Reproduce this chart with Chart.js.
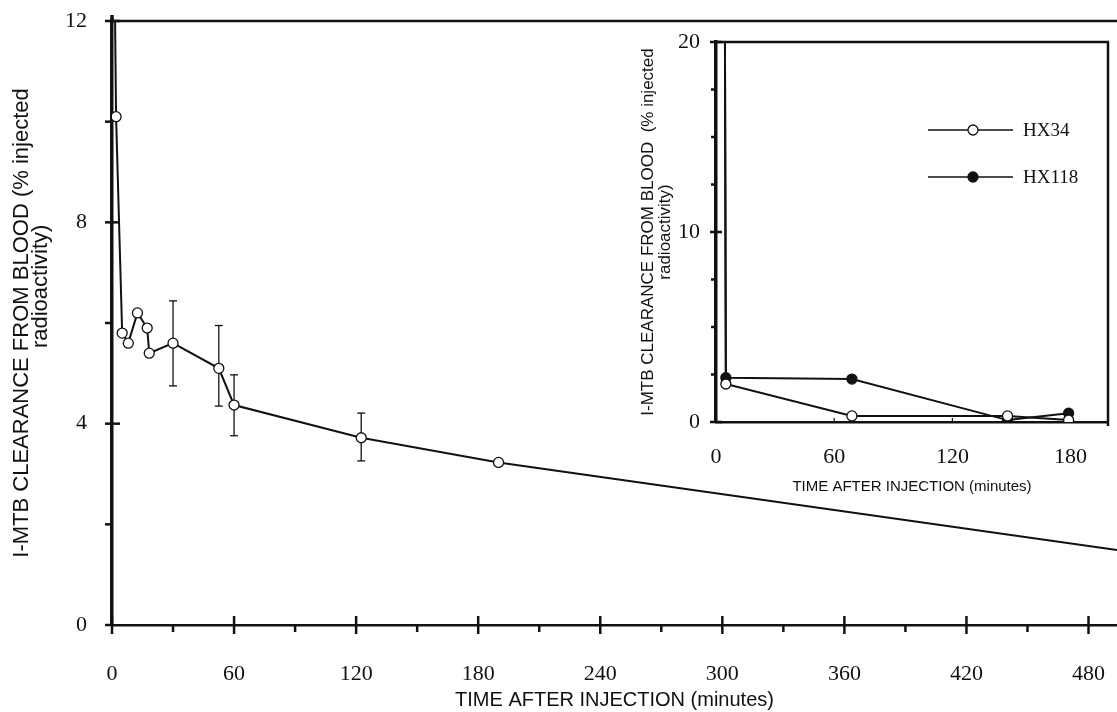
<!DOCTYPE html>
<html><head><meta charset="utf-8">
<script src="https://cdn.jsdelivr.net/npm/chart.js@4"></script>
<style>
html,body{margin:0;padding:0;background:#fff;}
#wrap{position:relative;width:1117px;height:712px;overflow:hidden;}
#main{position:absolute;left:0;top:0;}
#inset{position:absolute;left:600px;top:0;}
</style></head><body>
<div id="wrap"><canvas id="main" width="1117" height="712"></canvas><canvas id="inset" width="517" height="520"></canvas></div>
<script>
// ---- main chart data ----
const mainTimes   = [0, 2, 5, 8, 12.5, 17.3, 18.3, 30, 52.5, 60, 122.5, 190, 494];
const mainValues  = [18, 10.1, 5.8, 5.6, 6.2, 5.9, 5.4, 5.6, 5.1, 4.37, 3.72, 3.23, 1.49];
const mainErrHigh = [null, null, null, null, null, null, null, 6.44, 5.95, 4.97, 4.21, null, null];
const mainErrLow  = [null, null, null, null, null, null, null, 4.75, 4.35, 3.76, 3.26, null, null];
const mainXTicks  = [0, 60, 120, 180, 240, 300, 360, 420, 480];
const mainXMinor  = [30, 90, 150, 210, 270, 330, 390, 450];
const mainYTicks  = [0, 4, 8, 12];
const mainYMinor  = [2, 6, 10];

// ---- inset chart data ----
const insetTimes   = [4.5, 5, 69, 148, 179];
const hx34Values   = [22, 2.0, 0.32, 0.32, 0.1];
const hx118Values  = [22, 2.33, 2.26, 0.1, 0.46];
const insetXTicks  = [0, 60, 120, 180];
const insetYTicks  = [0, 10, 20];
const insetYMinor  = [2.5, 5, 7.5, 12.5, 15, 17.5];
const seriesNames  = ['HX34', 'HX118'];

const blk = '#111';
const serif = 'Liberation Serif';
const sans = 'Liberation Sans';
const NB = '\u00A0';

function line(ctx, x1, y1, x2, y2) { ctx.beginPath(); ctx.moveTo(x1, y1); ctx.lineTo(x2, y2); ctx.stroke(); }
function noPadX(h) { return s => { s.height = h; s.paddingLeft = 0; s.paddingRight = 0; s.paddingTop = 0; s.paddingBottom = 0; }; }
function noPadY(w) { return s => { s.width = w; s.paddingLeft = 0; s.paddingRight = 0; s.paddingTop = 0; s.paddingBottom = 0; }; }

// ---------- MAIN ----------
const mainDecor = {
  id: 'mainDecor',
  beforeDatasetsDraw(chart) {
    const ctx = chart.ctx, xs = chart.scales.x, ys = chart.scales.y;
    ctx.save(); ctx.strokeStyle = blk; ctx.lineWidth = 1.3;
    mainTimes.forEach((t, i) => {
      if (mainErrHigh[i] == null) return;
      const x = xs.getPixelForValue(t), y1 = ys.getPixelForValue(mainErrHigh[i]), y2 = ys.getPixelForValue(mainErrLow[i]);
      line(ctx, x, y1, x, y2); line(ctx, x - 4, y1, x + 4, y1); line(ctx, x - 4, y2, x + 4, y2);
    });
    ctx.restore();
  },
  afterDraw(chart) {
    const ctx = chart.ctx, xs = chart.scales.x, ys = chart.scales.y, a = chart.chartArea;
    ctx.save(); ctx.strokeStyle = blk;
    ctx.lineWidth = 2.5; line(ctx, a.left - 1, a.top, a.right, a.top);
    ctx.lineWidth = 3.5; line(ctx, a.left, a.top - 6, a.left, a.top);
    ctx.lineWidth = 2.5;
    mainXTicks.forEach(v => { const x = xs.getPixelForValue(v); line(ctx, x, a.bottom - 9, x, a.bottom + 9); });
    mainXMinor.forEach(v => { const x = xs.getPixelForValue(v); line(ctx, x, a.bottom, x, a.bottom + 7); });
    mainYTicks.forEach(v => { const y = ys.getPixelForValue(v); line(ctx, a.left - 7, y, v === 0 ? a.left : a.left + 8, y); });
    mainYMinor.forEach(v => { const y = ys.getPixelForValue(v); line(ctx, a.left - 7, y, a.left, y); });
    ctx.restore();
  }
};

new Chart(document.getElementById('main'), {
  type: 'line',
  data: { datasets: [{
    data: mainTimes.map((t, i) => ({ x: t, y: mainValues[i] })),
    borderColor: blk, borderWidth: 2, tension: 0,
    pointRadius: c => (c.dataIndex === 0 || c.dataIndex === mainTimes.length - 1) ? 0 : 5,
    pointBackgroundColor: '#fff', pointBorderColor: blk, pointBorderWidth: 1.3
  }]},
  options: {
    responsive: false, animation: false, devicePixelRatio: 1,
    layout: { padding: { top: 21, right: 0, left: 0, bottom: 0 } },
    plugins: { legend: { display: false }, tooltip: { enabled: false } },
    scales: {
      x: {
        type: 'linear', min: 0, max: 494,
        afterBuildTicks: s => { s.ticks = mainXTicks.map(v => ({ value: v })); },
        afterFit: noPadX(87),
        grid: { display: false, drawTicks: false },
        border: { display: true, color: blk, width: 2.5 },
        ticks: { color: blk, font: { family: serif, size: 22 }, padding: 36, maxRotation: 0, autoSkip: false },
        title: { display: true, text: 'TIME AFTER INJECTION (minutes)', color: blk, font: { family: sans, size: 20 }, padding: { top: 0, bottom: 0 } }
      },
      y: {
        type: 'linear', min: 0, max: 12,
        afterBuildTicks: s => { s.ticks = mainYTicks.map(v => ({ value: v })); },
        afterFit: noPadY(112),
        grid: { display: false, drawTicks: false },
        border: { display: true, color: blk, width: 3.5 },
        ticks: { color: blk, font: { family: serif, size: 22 }, padding: 25 },
        title: { display: true, text: ['I-MTB CLEARANCE FROM BLOOD (% injected', NB.repeat(12) + 'radioactivity)'], color: blk,
                 font: { family: sans, size: 22, lineHeight: 0.85 }, padding: { top: 12.6, bottom: 0 } }
      }
    }
  },
  plugins: [mainDecor]
});

// ---------- INSET ----------
const insetDecor = {
  id: 'insetDecor',
  afterDraw(chart) {
    const ctx = chart.ctx, xs = chart.scales.x, ys = chart.scales.y, a = chart.chartArea;
    ctx.save(); ctx.strokeStyle = blk;
    ctx.lineWidth = 2.5;
    line(ctx, a.left, a.top, a.right + 1, a.top);
    line(ctx, a.right, a.top, a.right, a.bottom + 4);
    insetYMinor.forEach(v => { const y = ys.getPixelForValue(v); line(ctx, a.left - 5, y, a.left, y); });
    insetYTicks.forEach(v => { const y = ys.getPixelForValue(v); line(ctx, a.left - 6, y, a.left + 6, y); });
    ctx.lineWidth = 1.2;
    [60, 120].forEach(v => { const x = xs.getPixelForValue(v); line(ctx, x, a.bottom, x, a.bottom - 4); });
    // legend
    const legY = [130, 177];
    const lx1 = 328, lx2 = 413, mx = 373, tx = 423;
    ctx.font = '19px "' + serif + '"'; ctx.textBaseline = 'middle'; ctx.textAlign = 'left';
    seriesNames.forEach((n, i) => {
      const y = legY[i];
      ctx.lineWidth = 1.6; line(ctx, lx1, y, lx2, y);
      ctx.beginPath(); ctx.arc(mx, y, 5, 0, Math.PI * 2);
      ctx.fillStyle = i === 0 ? '#fff' : blk; ctx.fill(); ctx.lineWidth = 1.3; ctx.stroke();
      ctx.fillStyle = blk; ctx.fillText(n, tx, y + 1);
    });
    ctx.restore();
  }
};

new Chart(document.getElementById('inset'), {
  type: 'line',
  data: { datasets: [
    { label: seriesNames[0], data: insetTimes.map((t, i) => ({ x: t, y: hx34Values[i] })),
      borderColor: blk, borderWidth: 2, tension: 0,
      pointRadius: c => c.dataIndex === 0 ? 0 : 5, pointBackgroundColor: '#fff', pointBorderColor: blk, pointBorderWidth: 1.3 },
    { label: seriesNames[1], data: insetTimes.map((t, i) => ({ x: t, y: hx118Values[i] })),
      borderColor: blk, borderWidth: 2, tension: 0,
      pointRadius: c => c.dataIndex === 0 ? 0 : 5, pointBackgroundColor: blk, pointBorderColor: blk, pointBorderWidth: 1.3 }
  ]},
  options: {
    responsive: false, animation: false, devicePixelRatio: 1,
    layout: { padding: { top: 42, right: 9, left: 0, bottom: 0 } },
    plugins: { legend: { display: false }, tooltip: { enabled: false } },
    scales: {
      x: {
        type: 'linear', min: 0, max: 199,
        afterBuildTicks: s => { s.ticks = insetXTicks.map(v => ({ value: v })); },
        afterFit: noPadX(98),
        grid: { display: false, drawTicks: false },
        border: { display: true, color: blk, width: 2.5 },
        ticks: { color: blk, font: { family: serif, size: 22 }, padding: 22, maxRotation: 0, autoSkip: false },
        title: { display: true, text: 'TIME AFTER INJECTION (minutes)', color: blk, font: { family: sans, size: 15 }, padding: { top: 0, bottom: 24 } }
      },
      y: {
        type: 'linear', min: 0, max: 20,
        afterBuildTicks: s => { s.ticks = insetYTicks.map(v => ({ value: v })); },
        afterFit: noPadY(116),
        grid: { display: false, drawTicks: false },
        border: { display: true, color: blk, width: 3.5 },
        ticks: { color: blk, font: { family: serif, size: 22 }, padding: 16 },
        title: { display: true, text: ['I-MTB CLEARANCE FROM BLOOD  (% injected', 'radioactivity)'], color: blk,
                 font: { family: sans, size: 17, lineHeight: 1.0 }, padding: { top: 39.5, bottom: 0 } }
      }
    }
  },
  plugins: [insetDecor]
});
</script>
</body></html>
